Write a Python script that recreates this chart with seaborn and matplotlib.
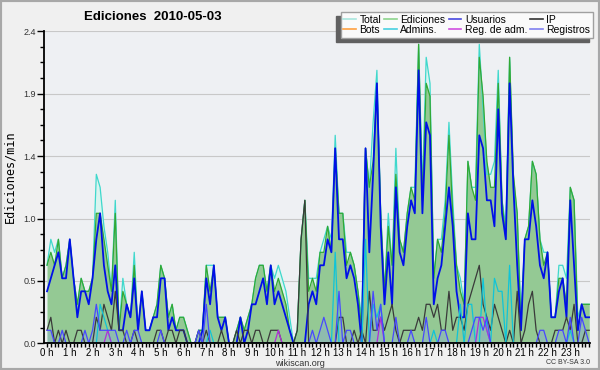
import numpy as np
import pandas as pd
import matplotlib
matplotlib.use("Agg")
import matplotlib.pyplot as plt
import seaborn as sns
from matplotlib.lines import Line2D
from matplotlib.patches import Rectangle

# one value every 10 minutes (6 per hour), edits per minute
hours = [f"{h} h" for h in range(24)]

total = [
    0.6, 0.8, 0.7, 0.8, 0.5, 0.6,   0.8, 0.5, 0.3, 0.5, 0.4, 0.4,
    0.5, 1.3, 1.2, 0.9, 0.7, 0.4,   1.1, 0.1, 0.5, 0.3, 0.2, 0.7,
    0.1, 0.4, 0.1, 0.1, 0.2, 0.3,   0.6, 0.5, 0.2, 0.3, 0.1, 0.2,
    0.2, 0.1, 0.0, 0.0, 0.1, 0.1,   0.6, 0.6, 0.6, 0.2, 0.2, 0.2,
    0.0, 0.0, 0.1, 0.2, 0.1, 0.2,   0.3, 0.5, 0.6, 0.6, 0.4, 0.6,
    0.5, 0.6, 0.5, 0.4, 0.2, 0.0,   0.1, 0.8, 1.1, 0.5, 0.5, 0.5,
    0.7, 0.8, 0.9, 0.8, 1.6, 1.0,   1.0, 0.7, 0.7, 0.6, 0.4, 0.2,
    1.5, 1.2, 1.7, 2.1, 1.0, 0.4,   1.0, 0.6, 1.5, 0.8, 0.7, 1.0,
    1.2, 1.2, 2.3, 1.2, 2.2, 2.0,   0.5, 0.8, 0.8, 1.1, 1.7, 1.1,
    0.6, 0.5, 0.3, 1.4, 1.2, 1.2,   2.3, 1.8, 1.3, 1.3, 1.4, 2.1,
    1.1, 0.9, 2.2, 1.2, 1.0, 0.2,   0.8, 0.9, 1.4, 1.3, 0.8, 0.7,
    0.7, 0.2, 0.2, 0.6, 0.6, 0.5,   1.2, 1.1, 0.2, 0.3, 0.3, 0.3,
]
ediciones = [
    0.6, 0.7, 0.6, 0.8, 0.5, 0.6,   0.8, 0.5, 0.3, 0.5, 0.4, 0.4,
    0.5, 1.0, 1.0, 0.8, 0.6, 0.4,   1.0, 0.1, 0.4, 0.3, 0.2, 0.6,
    0.1, 0.4, 0.1, 0.1, 0.2, 0.3,   0.6, 0.5, 0.2, 0.3, 0.1, 0.2,
    0.2, 0.1, 0.0, 0.0, 0.1, 0.1,   0.6, 0.4, 0.6, 0.2, 0.2, 0.2,
    0.0, 0.0, 0.1, 0.2, 0.1, 0.2,   0.3, 0.5, 0.6, 0.6, 0.4, 0.6,
    0.4, 0.5, 0.4, 0.3, 0.1, 0.0,   0.1, 0.8, 1.1, 0.4, 0.5, 0.4,
    0.7, 0.7, 0.9, 0.7, 1.5, 1.0,   1.0, 0.6, 0.7, 0.6, 0.4, 0.1,
    1.5, 1.2, 1.4, 2.0, 1.0, 0.4,   0.9, 0.6, 1.3, 0.8, 0.7, 1.0,
    1.2, 1.1, 2.3, 1.1, 2.0, 1.9,   0.5, 0.8, 0.7, 1.0, 1.6, 1.0,
    0.6, 0.4, 0.3, 1.4, 1.2, 1.1,   2.2, 1.9, 1.4, 1.2, 1.2, 2.0,
    1.1, 0.8, 2.2, 1.3, 1.0, 0.1,   0.8, 0.9, 1.4, 1.3, 0.8, 0.6,
    0.7, 0.2, 0.2, 0.5, 0.5, 0.3,   1.2, 1.1, 0.1, 0.3, 0.3, 0.3,
]
usuarios = [
    0.4, 0.5, 0.6, 0.7, 0.5, 0.5,   0.8, 0.5, 0.2, 0.4, 0.4, 0.3,
    0.5, 0.8, 1.0, 0.6, 0.4, 0.3,   0.6, 0.1, 0.1, 0.3, 0.2, 0.5,
    0.1, 0.4, 0.1, 0.1, 0.2, 0.2,   0.5, 0.5, 0.1, 0.2, 0.1, 0.1,
    0.1, 0.0, 0.0, 0.0, 0.0, 0.1,   0.5, 0.3, 0.6, 0.2, 0.1, 0.2,
    0.0, 0.0, 0.0, 0.2, 0.0, 0.1,   0.3, 0.3, 0.4, 0.5, 0.3, 0.6,
    0.3, 0.4, 0.3, 0.2, 0.1, 0.0,   0.0, 0.0, 0.0, 0.3, 0.4, 0.3,
    0.6, 0.6, 0.8, 0.7, 1.5, 0.8,   0.8, 0.5, 0.6, 0.5, 0.3, 0.0,
    1.5, 0.7, 1.3, 2.0, 0.9, 0.3,   0.7, 0.3, 1.2, 0.7, 0.6, 0.9,
    1.1, 1.0, 2.1, 1.0, 1.7, 1.6,   0.3, 0.5, 0.6, 0.9, 1.2, 0.9,
    0.4, 0.2, 0.2, 1.0, 0.8, 0.8,   1.6, 1.5, 1.1, 1.1, 0.9, 1.8,
    1.0, 0.8, 2.0, 1.2, 0.6, 0.1,   0.8, 0.8, 1.1, 0.9, 0.6, 0.5,
    0.7, 0.2, 0.2, 0.4, 0.5, 0.2,   1.1, 0.6, 0.1, 0.3, 0.2, 0.2,
]
ip = [
    0.1, 0.2, 0.0, 0.1, 0.0, 0.1,   0.0, 0.0, 0.1, 0.1, 0.0, 0.0,
    0.0, 0.2, 0.1, 0.3, 0.2, 0.1,   0.4, 0.1, 0.1, 0.0, 0.0, 0.1,
    0.0, 0.0, 0.0, 0.0, 0.0, 0.1,   0.1, 0.0, 0.1, 0.1, 0.0, 0.1,
    0.1, 0.0, 0.0, 0.0, 0.1, 0.0,   0.1, 0.0, 0.0, 0.0, 0.1, 0.0,
    0.0, 0.0, 0.1, 0.0, 0.1, 0.1,   0.0, 0.1, 0.1, 0.0, 0.0, 0.1,
    0.1, 0.1, 0.0, 0.0, 0.0, 0.0,   0.1, 0.8, 1.1, 0.0, 0.0, 0.0,
    0.0, 0.0, 0.0, 0.0, 0.0, 0.2,   0.2, 0.0, 0.0, 0.1, 0.0, 0.1,
    0.0, 0.4, 0.1, 0.1, 0.2, 0.1,   0.2, 0.3, 0.1, 0.0, 0.1, 0.1,
    0.1, 0.1, 0.2, 0.1, 0.3, 0.3,   0.2, 0.3, 0.1, 0.1, 0.4, 0.1,
    0.2, 0.2, 0.1, 0.3, 0.4, 0.5,   0.6, 0.3, 0.2, 0.1, 0.3, 0.2,
    0.1, 0.0, 0.1, 0.0, 0.4, 0.0,   0.1, 0.3, 0.4, 0.1, 0.0, 0.0,
    0.0, 0.0, 0.1, 0.1, 0.1, 0.2,   0.1, 0.3, 0.0, 0.0, 0.1, 0.1,
]
bots = [0.0] * 144
admins = [
    0.0, 0.0, 0.0, 0.0, 0.0, 0.0,   0.0, 0.0, 0.0, 0.0, 0.0, 0.0,
    0.0, 0.0, 0.3, 0.2, 0.1, 0.0,   0.0, 0.0, 0.0, 0.0, 0.0, 0.0,
    0.0, 0.0, 0.0, 0.0, 0.0, 0.0,   0.0, 0.0, 0.0, 0.0, 0.0, 0.0,
    0.0, 0.0, 0.0, 0.0, 0.0, 0.0,   0.0, 0.1, 0.0, 0.0, 0.0, 0.0,
    0.0, 0.0, 0.0, 0.0, 0.0, 0.0,   0.0, 0.0, 0.0, 0.0, 0.0, 0.0,
    0.0, 0.0, 0.0, 0.0, 0.0, 0.0,   0.0, 0.0, 0.0, 0.0, 0.0, 0.0,
    0.0, 0.0, 0.0, 0.0, 0.7, 0.0,   0.0, 0.0, 0.0, 0.0, 0.0, 0.0,
    0.8, 0.0, 0.3, 0.2, 0.3, 0.0,   0.0, 0.0, 0.0, 0.0, 0.0, 0.0,
    0.0, 0.0, 0.0, 0.0, 0.0, 0.0,   0.1, 0.0, 0.0, 0.0, 0.0, 0.0,
    0.0, 0.3, 0.0, 0.3, 0.3, 0.0,   0.0, 0.5, 0.1, 0.0, 0.5, 0.4,
    0.4, 0.0, 0.6, 0.0, 0.0, 0.0,   0.0, 0.0, 0.0, 0.0, 0.0, 0.0,
    0.0, 0.0, 0.0, 0.0, 0.0, 0.0,   0.1, 0.0, 0.0, 0.0, 0.0, 0.0,
]
reg_adm = [
    0.0, 0.0, 0.0, 0.0, 0.0, 0.0,   0.0, 0.0, 0.0, 0.0, 0.0, 0.0,
    0.0, 0.0, 0.0, 0.0, 0.1, 0.0,   0.0, 0.0, 0.0, 0.0, 0.0, 0.0,
    0.0, 0.0, 0.0, 0.0, 0.0, 0.0,   0.0, 0.0, 0.0, 0.0, 0.0, 0.0,
    0.0, 0.0, 0.0, 0.0, 0.0, 0.0,   0.0, 0.0, 0.0, 0.0, 0.0, 0.0,
    0.0, 0.0, 0.0, 0.0, 0.0, 0.0,   0.0, 0.0, 0.0, 0.0, 0.0, 0.0,
    0.0, 0.1, 0.0, 0.0, 0.0, 0.0,   0.0, 0.0, 0.0, 0.0, 0.0, 0.0,
    0.0, 0.0, 0.0, 0.0, 0.0, 0.0,   0.0, 0.0, 0.0, 0.0, 0.0, 0.0,
    0.0, 0.0, 0.0, 0.0, 0.2, 0.0,   0.0, 0.0, 0.0, 0.0, 0.0, 0.0,
    0.0, 0.0, 0.0, 0.0, 0.0, 0.0,   0.0, 0.0, 0.0, 0.0, 0.0, 0.0,
    0.0, 0.0, 0.0, 0.0, 0.0, 0.0,   0.2, 0.2, 0.1, 0.0, 0.0, 0.0,
    0.0, 0.0, 0.0, 0.0, 0.0, 0.0,   0.0, 0.0, 0.0, 0.0, 0.0, 0.0,
    0.0, 0.0, 0.0, 0.0, 0.0, 0.0,   0.0, 0.0, 0.0, 0.0, 0.0, 0.0,
]
registros = [
    0.1, 0.1, 0.0, 0.0, 0.1, 0.0,   0.0, 0.0, 0.0, 0.0, 0.1, 0.0,
    0.1, 0.3, 0.1, 0.1, 0.1, 0.1,   0.1, 0.0, 0.0, 0.1, 0.0, 0.1,
    0.1, 0.0, 0.0, 0.0, 0.0, 0.0,   0.1, 0.0, 0.0, 0.0, 0.0, 0.0,
    0.0, 0.0, 0.0, 0.0, 0.1, 0.0,   0.3, 0.0, 0.0, 0.0, 0.0, 0.0,
    0.0, 0.0, 0.0, 0.0, 0.0, 0.0,   0.0, 0.0, 0.0, 0.0, 0.0, 0.0,
    0.0, 0.0, 0.0, 0.0, 0.0, 0.0,   0.0, 0.0, 0.0, 0.0, 0.1, 0.0,
    0.1, 0.2, 0.1, 0.0, 0.0, 0.4,   0.0, 0.1, 0.1, 0.0, 0.0, 0.0,
    0.0, 0.0, 0.4, 0.1, 0.3, 0.0,   0.0, 0.0, 0.2, 0.0, 0.0, 0.0,
    0.1, 0.0, 0.0, 0.0, 0.2, 0.0,   0.0, 0.0, 0.1, 0.1, 0.0, 0.0,
    0.0, 0.0, 0.0, 0.0, 0.1, 0.2,   0.2, 0.1, 0.2, 0.0, 0.0, 0.0,
    0.0, 0.0, 0.0, 0.0, 0.0, 0.0,   0.0, 0.0, 0.0, 0.0, 0.1, 0.1,
    0.0, 0.0, 0.0, 0.1, 0.1, 0.0,   0.2, 0.0, 0.0, 0.2, 0.1, 0.0,
]

df = pd.DataFrame({
    "slot": np.arange(len(total)),
    "Total": total,
    "Ediciones": ediciones,
    "Usuarios": usuarios,
    "IP": ip,
    "Bots": bots,
    "Admins.": admins,
    "Reg. de adm.": reg_adm,
    "Registros": registros,
})

line_colors = {
    "Total": "#3fd8cc",
    "Ediciones": "#33a833",
    "Usuarios": "#0010e8",
    "IP": "#3a3a3a",
    "Bots": "#ff9a30",
    "Admins.": "#10c4d8",
    "Reg. de adm.": "#b030d8",
    "Registros": "#4848ff",
}
legend_colors = {
    "Total": "#a9e6de",
    "Ediciones": "#8cd48c",
    "Usuarios": "#4848e0",
    "IP": "#333333",
    "Bots": "#ffa040",
    "Admins.": "#48d0e0",
    "Reg. de adm.": "#d050e0",
    "Registros": "#8080f0",
}

sans = ["Liberation Sans", "DejaVu Sans"]

fig = plt.figure(figsize=(6, 3.7), dpi=100, facecolor="#f0f0f0")
ax = fig.add_axes([44 / 600, 26.7 / 370, 546 / 600, 312 / 370])
ax.set_facecolor("#eef0f3")

# filled areas
ax.fill_between(df["slot"], df["Total"], color="#d9f4ef", lw=0, zorder=1)
ax.fill_between(df["slot"], df["Ediciones"], color="#94c994", lw=0, zorder=1.1)
ax.fill_between(df["slot"], df["Registros"], color="#8ab0c8", alpha=0.5, lw=0, zorder=1.2)

# lines
for name in ["Total", "Ediciones", "Usuarios", "IP", "Bots", "Admins.", "Reg. de adm.", "Registros"]:
    sns.lineplot(data=df, x="slot", y=name, color=line_colors[name],
                 lw=1.3 if name == "Usuarios" else 0.9, ax=ax, zorder=2)

ax.set_xlabel("")
ax.set_ylabel("")
ax.set_xlim(-0.8, 143.2)
ax.set_ylim(0, 2.4)

ax.set_yticks([0, 0.48, 0.96, 1.44, 1.92, 2.4])
ax.set_yticklabels(["0.0", "0.5", "1.0", "1.4", "1.9", "2.4"])
ax.set_yticks(np.arange(0, 2.41, 0.12), minor=True)
ax.set_xticks(np.arange(0, 144, 6))
ax.set_xticklabels(hours)
ax.set_xticks(np.arange(0, 144), minor=True)

ax.yaxis.grid(True, color="#c8c8c8", lw=0.8)
ax.set_axisbelow(True)
for s in ["top", "right"]:
    ax.spines[s].set_visible(False)
for s in ["left", "bottom"]:
    ax.spines[s].set_color("black")
    ax.spines[s].set_linewidth(1.3)
    ax.spines[s].set_zorder(3)

ax.tick_params(axis="y", which="major", length=5, width=1, labelsize=6.5,
               labelcolor="#333333", pad=1)
ax.tick_params(axis="y", which="minor", length=3, width=1)
ax.tick_params(axis="x", which="both", length=3, width=1, labelsize=7, pad=0.2)
for lab in ax.get_xticklabels() + ax.get_yticklabels():
    lab.set_family(sans)

fig.text(153 / 600, 1 - 17 / 370, "Ediciones  2010-05-03", ha="center",
         va="center", fontsize=9.5, fontweight="bold", family=sans)
fig.text(10 / 600, 1 - 177 / 370, "Ediciones/min", rotation=90, ha="center",
         va="center", fontsize=8.5, family=["DejaVu Sans Mono"])
fig.text(300 / 600, 1 - 364 / 370, "wikiscan.org", ha="center", va="center",
         fontsize=6.5, color="#333333", family=sans)
fig.text(590 / 600, 1 - 363 / 370, "CC BY-SA 3.0", ha="right", va="center",
         fontsize=5, color="#333333", family=sans)

order = ["Total", "Bots", "Ediciones", "Admins.", "Usuarios", "Reg. de adm.", "IP", "Registros"]
handles = [Line2D([], [], color=legend_colors[n], lw=1.2) for n in order]
fig.legend(handles, order, loc="upper right", bbox_to_anchor=(593 / 600, 1 - 12 / 370),
           ncol=4, prop={"family": sans, "size": 7.5}, handlelength=1.2,
           handletextpad=0.35, columnspacing=0.3, labelspacing=0.05,
           borderpad=0.25, borderaxespad=0, fancybox=False, framealpha=1,
           facecolor="#fafafa", edgecolor="#a0a0a0",
           shadow={"ox": -3, "oy": -3, "facecolor": "#606060",
                   "edgecolor": "#606060", "alpha": 1})

fig.add_artist(Rectangle((0, 0), 1, 1, transform=fig.transFigure, fill=False,
                         edgecolor="#a8a8a8", lw=3))

fig.savefig("out.png", dpi=100)
plt.close(fig)
